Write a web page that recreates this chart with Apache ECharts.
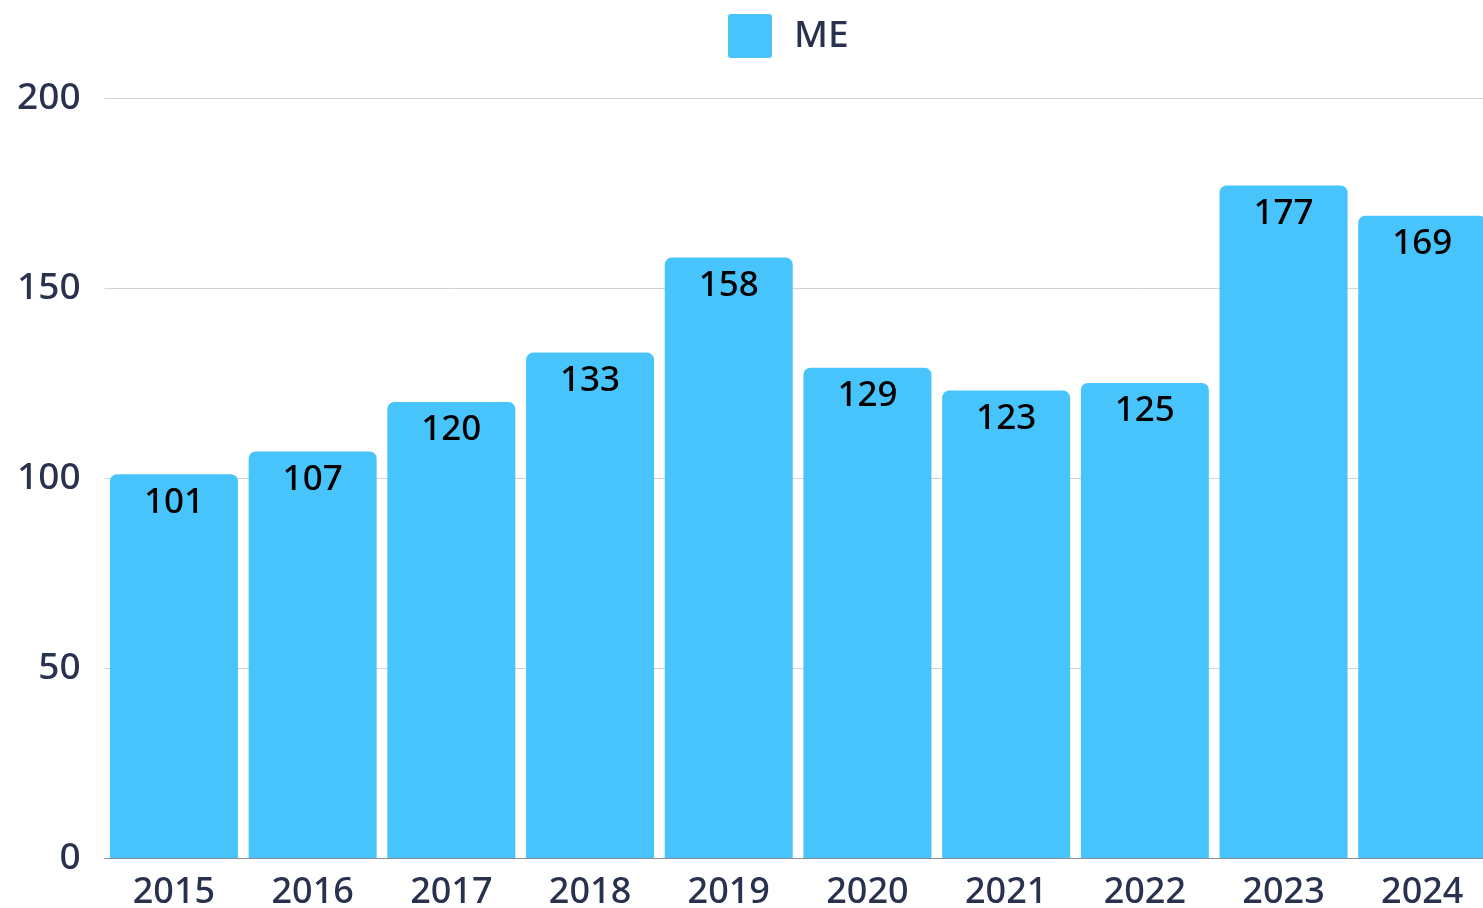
<!DOCTYPE html>
<html>
<head>
<meta charset="utf-8">
<script src="https://cdn.jsdelivr.net/npm/echarts@6/dist/echarts.min.js"></script>
<style>
html,body{margin:0;padding:0;background:#fff;}
#chart{width:1483px;height:908px;}
</style>
</head>
<body>
<div id="chart"></div>
<script>
const categories = ['2015','2016','2017','2018','2019','2020','2021','2022','2023','2024'];
const seriesName = 'ME';
const values = [101,107,120,133,158,129,123,125,177,169];
const yTicks = { min: 0, max: 200, interval: 50 };

const chart = echarts.init(document.getElementById('chart'));
const font = '"Noto Sans", sans-serif';
chart.setOption({
  animation: false,
  legend: {
    top: 9,
    left: 723,
    itemWidth: 44,
    itemHeight: 44,
    icon: 'path://M3,0 L41,0 Q44,0 44,3 L44,41 Q44,44 41,44 L3,44 Q0,44 0,41 L0,3 Q0,0 3,0 Z',
    data: [seriesName],
    textStyle: { fontFamily: font, fontSize: 37, fontWeight: 500, color: '#28314d', padding: [5,0,0,17] }
  },
  grid: { left: 104.6, width: 1387, top: 98, bottom: 50, containLabel: false, outerBoundsMode: 'none' },
  xAxis: {
    type: 'category',
    data: categories,
    axisTick: { show: false },
    axisLine: { show: true, lineStyle: { color: '#8a8f99', width: 1 } },
    axisLabel: { fontFamily: font, fontSize: 36, fontWeight: 500, color: '#28314d', margin: 17 }
  },
  yAxis: {
    type: 'value',
    min: yTicks.min, max: yTicks.max, interval: yTicks.interval,
    axisLine: { show: false },
    axisTick: { show: false },
    splitLine: { lineStyle: { color: '#cfd2da', width: 1 } },
    axisLabel: { fontFamily: font, fontSize: 37, fontWeight: 500, color: '#28314d', margin: 24 }
  },
  series: [{
    name: seriesName,
    type: 'bar',
    data: values,
    barCategoryGap: '7.7%',
    itemStyle: { color: '#48c4fd', borderRadius: [7,7,0,0] },
    label: {
      show: true,
      position: 'insideTop',
      distance: 11,
      fontFamily: font,
      fontSize: 35,
      fontWeight: 500,
      color: '#000'
    }
  }]
});
</script>
</body>
</html>
